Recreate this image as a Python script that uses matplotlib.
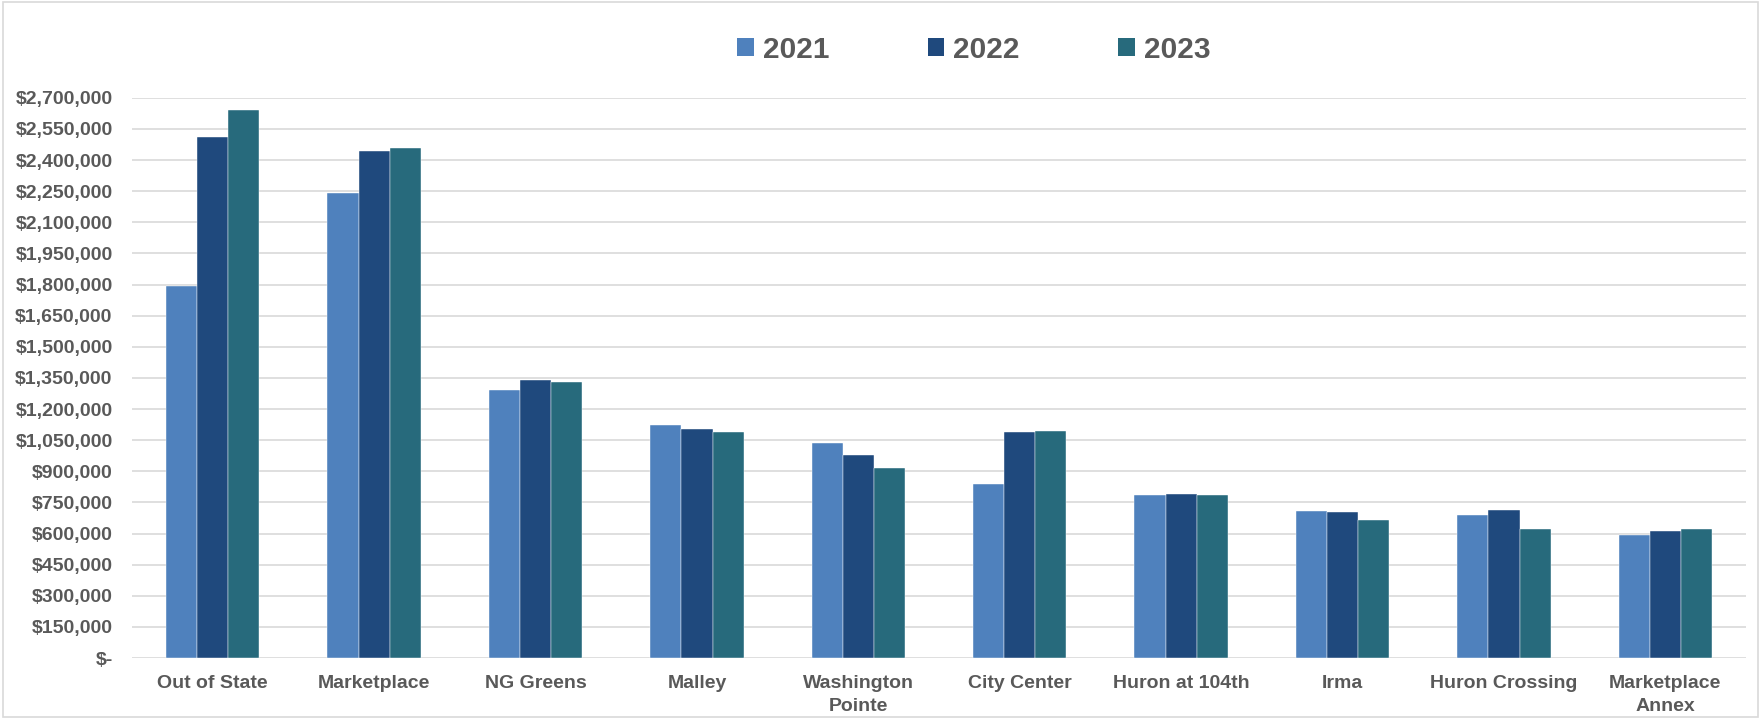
import matplotlib
matplotlib.use("Agg")
import matplotlib.pyplot as plt
import numpy as np
from matplotlib.patches import Rectangle, Patch
from matplotlib.ticker import FuncFormatter, MultipleLocator

categories = ["Out of State", "Marketplace", "NG Greens", "Malley", "Washington\nPointe",
              "City Center", "Huron at 104th", "Irma", "Huron Crossing", "Marketplace\nAnnex"]
years = ["2021", "2022", "2023"]
v2021 = [1794000, 2239000, 1290000, 1123000, 1035000, 841000, 785000, 709000, 687000, 594000]
v2022 = [2510000, 2442000, 1340000, 1104000, 979000, 1091000, 791000, 704000, 712000, 610000]
v2023 = [2642000, 2458000, 1328000, 1088000, 916000, 1093000, 785000, 663000, 624000, 622000]
colors = ["#4F81BD", "#1F497D", "#276A7C"]

plt.rcParams['font.family'] = ['Liberation Sans', 'DejaVu Sans']
txt = "#595959"

fig = plt.figure(figsize=(17.61, 7.19), dpi=100)
ax = fig.add_axes([0.075, 0.0848, 0.9165, 0.7792])

x = np.arange(len(categories))
w = 0.193
for i, (vals, c) in enumerate(zip([v2021, v2022, v2023], colors)):
    ax.bar(x + (i - 1) * w, vals, width=w, color=c, label=years[i], zorder=3,
           edgecolor="white", linewidth=0.3)

ax.set_xlim(-0.5, len(categories) - 0.5)
ax.set_ylim(0, 2700000)
ax.yaxis.set_major_locator(MultipleLocator(150000))
ax.yaxis.set_major_formatter(FuncFormatter(lambda v, p: "$-" if v == 0 else f"${v:,.0f}"))
ax.grid(axis="y", color="#D9D9D9", linewidth=1.2, zorder=0)
for s in ax.spines.values():
    s.set_visible(False)
ax.tick_params(axis="both", length=0, labelsize=14, labelcolor=txt)
ax.tick_params(axis="y", pad=14)
ax.tick_params(axis="x", pad=12)
ax.set_xticks(x)
ax.set_xticklabels(categories, fontweight="bold", linespacing=1.45)
for lab in ax.get_yticklabels():
    lab.set_fontweight("bold")

handles = [Patch(facecolor=c, edgecolor="none") for c in colors]
leg = fig.legend(handles, years, loc="center", bbox_to_anchor=(0.553, 0.931), ncol=3,
                 frameon=False, prop={"size": 21.5, "weight": "bold"},
                 handlelength=0.55, handleheight=0.55, handletextpad=0.3, columnspacing=3.3)
for t in leg.get_texts():
    t.set_color(txt)

fig.patches.append(Rectangle((0.0015, 0.003), 0.997, 0.994, transform=fig.transFigure,
                             fill=False, edgecolor="#D9D9D9", linewidth=1.2))

fig.savefig("out.png", dpi=100, facecolor="white")
